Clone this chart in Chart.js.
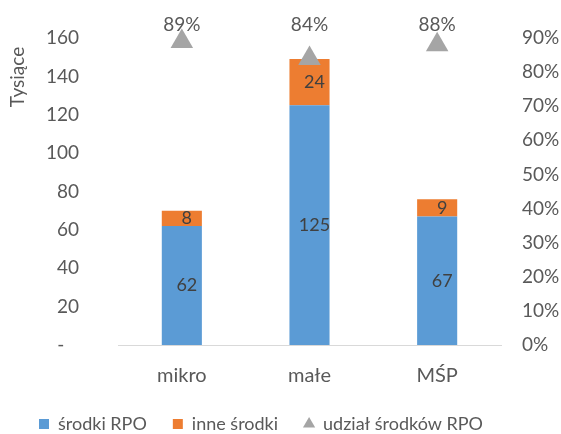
<!DOCTYPE html>
<html lang="pl">
<head>
<meta charset="utf-8">
<title>Środki RPO według wielkości przedsiębiorstw</title>
<script src="https://cdn.jsdelivr.net/npm/chart.js@4.4.1/dist/chart.umd.min.js"></script>
<style>
    html, body { margin: 0; padding: 0; background: #fff; }
    #wrap { width: 561px; height: 434px; position: relative; }
</style>
</head>
<body>
<div id="wrap"><canvas id="chart"></canvas></div>
<script>
// ── Dane ──────────────────────────────────────────────────────────────────
const kategorie  = ['mikro', 'małe', 'MŚP'];
const srodkiRPO  = [62, 125, 67];     // tys.
const inneSrodki = [8, 24, 9];        // tys.
const udzialRPO  = [89, 84, 88];      // %
const nazwySerii = ['środki RPO', 'inne środki', 'udział środków RPO'];
const tytulOsiY  = 'Tysiące';

const osLewaMax  = 160, osLewaKrok  = 20;
const osPrawaMax = 90,  osPrawaKrok = 10;

// ── Styl ──────────────────────────────────────────────────────────────────
const FONT         = 'Lato, "Open Sans", sans-serif';
const SZARY_TEKST  = '#595959';
const CIEMNY_TEKST = '#404040';
const NIEBIESKI    = '#5b9bd5';
const POMARANCZ    = '#ed7d31';
const SZARY        = '#a5a5a5';

// Etykiety wartości na słupkach i nad trójkątami + tytuł lewej osi
const etykietyPlugin = {
    id: 'etykiety',
    afterDatasetsDraw(chart) {
        const ctx = chart.ctx;
        ctx.save();
        ctx.textAlign = 'center';
        ctx.textBaseline = 'middle';
        chart.data.datasets.forEach((ds, i) => {
            const meta = chart.getDatasetMeta(i);
            if (meta.hidden) return;
            meta.data.forEach((el, j) => {
                if (meta.type === 'bar') {
                    ctx.font = '18px ' + FONT;
                    ctx.fillStyle = CIEMNY_TEKST;
                    ctx.fillText(String(ds.data[j]), el.x + 5, (el.y + el.base) / 2);
                } else {
                    ctx.font = '19px ' + FONT;
                    ctx.fillStyle = SZARY_TEKST;
                    ctx.fillText(ds.data[j] + '%', el.x, chart.chartArea.top - 13);
                }
            });
        });
        ctx.restore();
    },
    afterDraw(chart) {
        const ctx = chart.ctx;
        const area = chart.chartArea;
        ctx.save();
        ctx.translate(area.left - 100.5, area.top + 39);
        ctx.rotate(-Math.PI / 2);
        ctx.font = '19px ' + FONT;
        ctx.fillStyle = SZARY_TEKST;
        ctx.textAlign = 'center';
        ctx.textBaseline = 'middle';
        ctx.fillText(tytulOsiY, 0, 0);
        ctx.restore();
    }
};

// osie pionowe: padding etykiet nie powinien spychać obszaru wykresu w dół
const bezPaddinguPionowego = s => { s.paddingTop = 0; s.paddingBottom = 0; };

new Chart(document.getElementById('chart'), {
    data: {
        labels: kategorie,
        datasets: [
            {
                type: 'bar',
                label: nazwySerii[0],
                data: srodkiRPO,
                backgroundColor: NIEBIESKI,
                pointStyle: 'rect',
                stack: 'suma',
                barPercentage: 0.314,
                categoryPercentage: 1,
                order: 1
            },
            {
                type: 'bar',
                label: nazwySerii[1],
                data: inneSrodki,
                backgroundColor: POMARANCZ,
                pointStyle: 'rect',
                stack: 'suma',
                barPercentage: 0.314,
                categoryPercentage: 1,
                order: 1
            },
            {
                type: 'line',
                label: nazwySerii[2],
                data: udzialRPO,
                yAxisID: 'y1',
                showLine: false,
                clip: false,
                pointStyle: 'triangle',
                pointRadius: 13,
                pointHoverRadius: 13,
                pointBorderWidth: 0,
                borderWidth: 0,
                backgroundColor: SZARY,
                borderColor: SZARY,
                order: 0
            }
        ]
    },
    options: {
        responsive: true,
        maintainAspectRatio: false,
        animation: false,
        layout: { padding: { top: 38, left: 13, right: 0, bottom: -9 } },
        plugins: {
            tooltip: { enabled: false },
            legend: {
                position: 'bottom',
                align: 'start',
                labels: {
                    usePointStyle: true,
                    boxWidth: 10,
                    boxHeight: 10,
                    padding: 26,
                    color: SZARY_TEKST,
                    font: { family: FONT, size: 18 },
                    sort: (a, b) => a.datasetIndex - b.datasetIndex
                }
            }
        },
        scales: {
            x: {
                stacked: true,
                grid: { display: false, drawTicks: false },
                border: { display: true, color: '#d9d9d9', width: 1 },
                ticks: { color: SZARY_TEKST, font: { family: FONT, size: 20 }, padding: 19 },
                afterFit: s => { s.height = 44; }
            },
            y: {
                stacked: true,
                position: 'left',
                min: 0,
                max: osLewaMax,
                grid: { display: false, drawTicks: false },
                border: { display: false },
                ticks: {
                    stepSize: osLewaKrok,
                    padding: 39,
                    color: SZARY_TEKST,
                    font: { family: FONT, size: 19 },
                    callback: v => v === 0 ? '-   ' : v
                },
                afterFit: s => { s.width = 105; bezPaddinguPionowego(s); }
            },
            y1: {
                position: 'right',
                min: 0,
                max: osPrawaMax,
                grid: { display: false, drawTicks: false },
                border: { display: false },
                ticks: {
                    stepSize: osPrawaKrok,
                    padding: 21,
                    color: SZARY_TEKST,
                    font: { family: FONT, size: 19 },
                    callback: v => v + '%'
                },
                afterFit: s => { s.width = 60; bezPaddinguPionowego(s); }
            }
        }
    },
    plugins: [etykietyPlugin]
});
</script>
</body>
</html>
